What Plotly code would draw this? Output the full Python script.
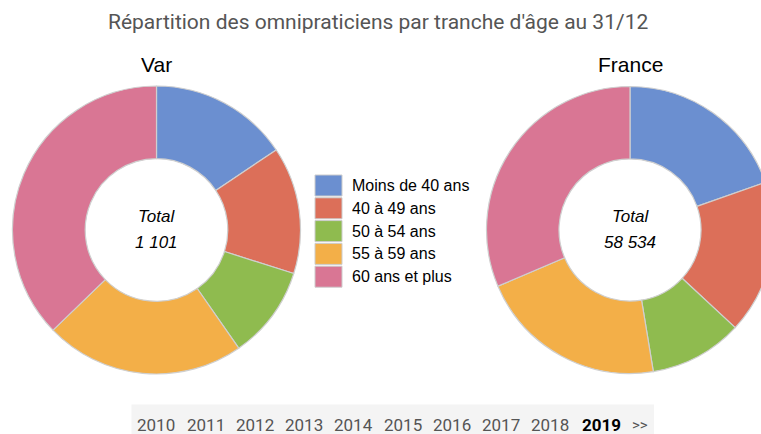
import plotly.graph_objects as go

# ---- data ----
categories = ["Moins de 40 ans", "40 à 49 ans", "50 à 54 ans", "55 à 59 ans", "60 ans et plus"]
var_values = [172, 157, 115, 247, 410]
france_values = [11473, 10126, 6146, 12409, 18380]
colors = ["#6b8fd0", "#dc6f59", "#8fbb4f", "#f3af48", "#d97694"]
years = ["2010", "2011", "2012", "2013", "2014", "2015", "2016", "2017", "2018", "2019"]
selected_year = "2019"
title_text = "Répartition des omnipraticiens par tranche d'âge au 31/12"

W, H = 780, 434


def px(x):
    return x / W


def py(y):
    return 1 - y / H


def fmt(n):
    return f"{n:,}".replace(",", " ")


def ann(x, y, text, font, xanchor="center"):
    return dict(x=px(x), y=py(y), xref="paper", yref="paper", text=text,
                xanchor=xanchor, yanchor="middle", showarrow=False, font=font)


fig = go.Figure()

# pies
pies = [
    ("Var", var_values, 156.5, 144.0),
    ("France", france_values, 630.0, 143.5),
]
for name, vals, cx, r in pies:
    fig.add_trace(go.Pie(
        labels=categories,
        values=vals,
        name=name,
        hole=0.495,
        sort=False,
        direction="clockwise",
        rotation=0,
        textinfo="none",
        marker=dict(colors=colors, line=dict(color="#cfcfcf", width=1.2)),
        domain=dict(x=[px(cx - r), px(cx + r)], y=[py(230 + r), py(230 - r)]),
        showlegend=False,
    ))

annotations = []
shapes = []

# main title
annotations.append(ann(378, 22, title_text,
                       dict(family="Roboto", size=21, color="#555555")))

# pie titles and totals
for name, vals, cx, r in pies:
    annotations.append(ann(cx, 64, name,
                           dict(family="Liberation Sans", size=21, color="#000000")))
    annotations.append(ann(cx, 216, "<i>Total</i>",
                           dict(family="Liberation Sans", size=17, color="#000000")))
    annotations.append(ann(cx, 243, "<i>" + fmt(sum(vals)) + "</i>",
                           dict(family="Liberation Sans", size=17, color="#000000")))

# custom legend
for i, (cat, col) in enumerate(zip(categories, colors)):
    y0 = 175 + i * 22.8
    shapes.append(dict(
        type="rect", xref="paper", yref="paper",
        x0=px(315), x1=px(342), y0=py(y0), y1=py(y0 + 21),
        fillcolor=col, line=dict(color="#cccccc", width=1),
    ))
    annotations.append(ann(350, y0 + 10.5, cat,
                           dict(family="Liberation Sans", size=16, color="#000000"),
                           xanchor="left"))

# year selector bar
shapes.append(dict(
    type="rect", xref="paper", yref="paper",
    x0=px(131.5), x1=px(654), y0=py(434), y1=py(404.5),
    fillcolor="#f4f4f4", line=dict(width=0), layer="below",
))
for i, yr in enumerate(years):
    sel = yr == selected_year
    annotations.append(ann(156.3 + i * 49.27 + (1.5 if sel else 0), 425,
                           ("<b>" + yr + "</b>") if sel else yr,
                           dict(family="Roboto", size=17,
                                color="#000000" if sel else "#555555")))
annotations.append(ann(639.5, 425, "&gt;&gt;",
                       dict(family="Roboto", size=15, color="#555555")))

fig.update_layout(
    width=W, height=H,
    margin=dict(l=0, r=0, t=0, b=0),
    paper_bgcolor="white", plot_bgcolor="white",
    annotations=annotations, shapes=shapes,
    showlegend=False,
)

fig.write_html(
    "out.html",
    config={"displayModeBar": False},
    post_script="document.body.style.margin='0';document.body.style.overflow='hidden';",
)
